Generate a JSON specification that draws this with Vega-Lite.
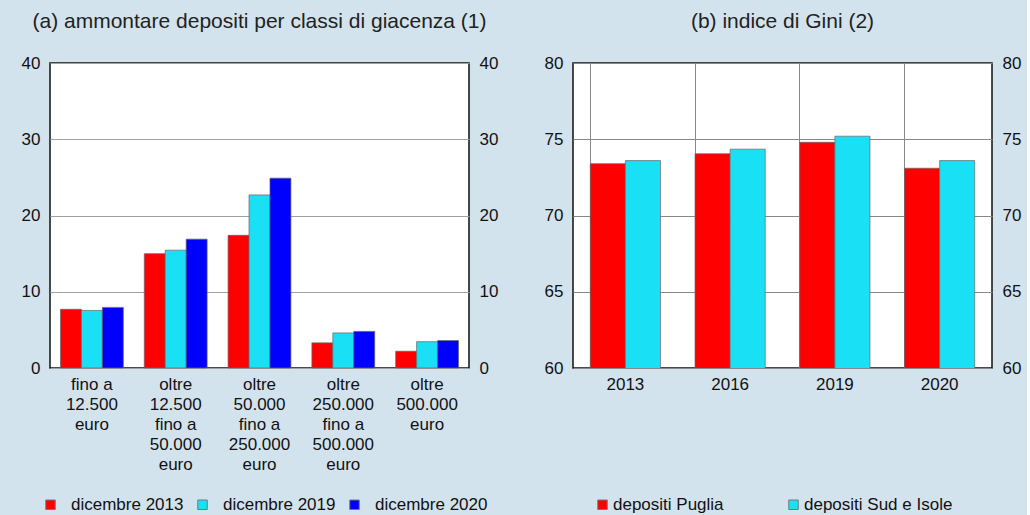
{
  "$schema": "https://vega.github.io/schema/vega-lite/v6.json",
  "background": "#d3e3ed",
  "padding": {"left": 20, "top": 10, "right": 5, "bottom": 5},
  "spacing": 44,
  "config": {
    "font": "Liberation Sans",
    "view": {"fill": "white", "stroke": "#111", "strokeWidth": 1.5},
    "axis": {"labelFontSize": 17, "labelColor": "#111", "ticks": false, "domain": false, "gridColor": "#a0a0a0", "gridWidth": 1, "title": null, "labelPadding": 10},
    "legend": {"labelFontSize": 17, "labelColor": "#111", "symbolType": "square", "symbolSize": 90, "symbolStrokeColor": "#777", "symbolStrokeWidth": 1, "title": null}
  },
  "hconcat": [
    {
      "width": 419,
      "height": 305,
      "title": {"text": "(a) ammontare depositi per classi di giacenza (1)", "fontSize": 21, "fontWeight": "normal", "color": "#222", "anchor": "middle", "offset": 22},
      "data": {"values": [
        {"classe": "fino a|12.500|euro", "serie": "dicembre 2013", "valore": 7.7},
        {"classe": "fino a|12.500|euro", "serie": "dicembre 2019", "valore": 7.55},
        {"classe": "fino a|12.500|euro", "serie": "dicembre 2020", "valore": 7.95},
        {"classe": "oltre|12.500|fino a|50.000|euro", "serie": "dicembre 2013", "valore": 15.0},
        {"classe": "oltre|12.500|fino a|50.000|euro", "serie": "dicembre 2019", "valore": 15.45},
        {"classe": "oltre|12.500|fino a|50.000|euro", "serie": "dicembre 2020", "valore": 16.9},
        {"classe": "oltre|50.000|fino a|250.000|euro", "serie": "dicembre 2013", "valore": 17.4},
        {"classe": "oltre|50.000|fino a|250.000|euro", "serie": "dicembre 2019", "valore": 22.7},
        {"classe": "oltre|50.000|fino a|250.000|euro", "serie": "dicembre 2020", "valore": 24.9},
        {"classe": "oltre|250.000|fino a|500.000|euro", "serie": "dicembre 2013", "valore": 3.3},
        {"classe": "oltre|250.000|fino a|500.000|euro", "serie": "dicembre 2019", "valore": 4.6},
        {"classe": "oltre|250.000|fino a|500.000|euro", "serie": "dicembre 2020", "valore": 4.8},
        {"classe": "oltre|500.000|euro", "serie": "dicembre 2013", "valore": 2.2},
        {"classe": "oltre|500.000|euro", "serie": "dicembre 2019", "valore": 3.45},
        {"classe": "oltre|500.000|euro", "serie": "dicembre 2020", "valore": 3.6}
      ]},
      "layer": [
        {
          "mark": {"type": "bar", "stroke": "#666", "strokeWidth": 0.7},
          "encoding": {
            "x": {"field": "classe", "type": "nominal", "sort": null, "scale": {"paddingInner": 0.25, "paddingOuter": 0.125},
                  "axis": {"labelAngle": 0, "labelExpr": "split(datum.label, '|')", "labelLineHeight": 20, "labelPadding": 8, "labelBaseline": "top"}},
            "xOffset": {"field": "serie", "type": "nominal", "sort": null, "scale": {"paddingInner": 0, "paddingOuter": 0}},
            "y": {"field": "valore", "type": "quantitative", "scale": {"domain": [0, 40], "nice": false},
                  "axis": {"orient": "left", "values": [0, 10, 20, 30, 40], "grid": true}},
            "color": {"field": "serie", "type": "nominal", "sort": null,
                      "scale": {"domain": ["dicembre 2013", "dicembre 2019", "dicembre 2020"], "range": ["#ff0000", "#1ae0f5", "#0000ff"]},
                      "legend": {"orient": "none", "direction": "horizontal", "legendX": -8, "legendY": 433, "labelOffset": 12, "columnPadding": 10}}
          }
        },
        {
          "mark": {"type": "rule", "opacity": 0},
          "encoding": {
            "y": {"field": "valore", "type": "quantitative", "scale": {"domain": [0, 40], "nice": false},
                  "axis": {"orient": "right", "values": [0, 10, 20, 30, 40], "grid": false}}
          }
        }
      ],
      "resolve": {"scale": {"y": "independent"}}
    },
    {
      "width": 419,
      "height": 305,
      "title": {"text": "(b) indice di Gini (2)", "fontSize": 21, "fontWeight": "normal", "color": "#222", "anchor": "middle", "offset": 22},
      "data": {"values": [
        {"anno": "2013", "serie": "depositi Puglia", "valore": 73.4},
        {"anno": "2013", "serie": "depositi Sud e Isole", "valore": 73.6},
        {"anno": "2016", "serie": "depositi Puglia", "valore": 74.05},
        {"anno": "2016", "serie": "depositi Sud e Isole", "valore": 74.35},
        {"anno": "2019", "serie": "depositi Puglia", "valore": 74.8},
        {"anno": "2019", "serie": "depositi Sud e Isole", "valore": 75.2},
        {"anno": "2020", "serie": "depositi Puglia", "valore": 73.1},
        {"anno": "2020", "serie": "depositi Sud e Isole", "valore": 73.6}
      ]},
      "layer": [
        {
          "mark": {"type": "bar", "stroke": "#666", "strokeWidth": 0.7, "clip": true},
          "encoding": {
            "x": {"field": "anno", "type": "nominal", "sort": null, "scale": {"paddingInner": 0.33, "paddingOuter": 0.165},
                  "axis": {"labelAngle": 0, "grid": true, "bandPosition": 0, "gridColor": "#888", "labelPadding": 8}},
            "xOffset": {"field": "serie", "type": "nominal", "sort": null, "scale": {"paddingInner": 0, "paddingOuter": 0}},
            "y": {"field": "valore", "type": "quantitative", "scale": {"domain": [60, 80], "nice": false, "zero": false},
                  "axis": {"orient": "left", "values": [60, 65, 70, 75, 80], "grid": true, "gridColor": "#888"}},
            "color": {"field": "serie", "type": "nominal", "sort": null,
                      "scale": {"domain": ["depositi Puglia", "depositi Sud e Isole"], "range": ["#ff0000", "#1ae0f5"]},
                      "legend": {"orient": "none", "direction": "horizontal", "legendX": 21, "legendY": 433, "labelOffset": 2, "columnPadding": 61}}
          }
        },
        {
          "mark": {"type": "rule", "opacity": 0},
          "encoding": {
            "y": {"field": "valore", "type": "quantitative", "scale": {"domain": [60, 80], "nice": false, "zero": false},
                  "axis": {"orient": "right", "values": [60, 65, 70, 75, 80], "grid": false}}
          }
        }
      ],
      "resolve": {"scale": {"y": "independent"}}
    }
  ],
  "resolve": {"scale": {"color": "independent", "x": "independent", "xOffset": "independent", "y": "independent"}, "legend": {"color": "independent"}}
}
